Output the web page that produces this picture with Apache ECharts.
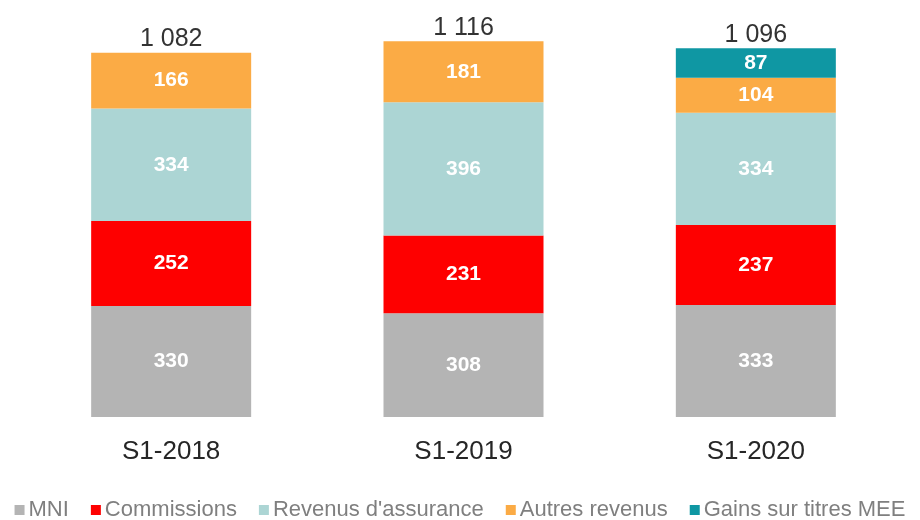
<!DOCTYPE html>
<html>
<head>
    <meta charset="UTF-8">
    <title></title>
    <script type="text/javascript" src="https://cdn.jsdelivr.net/npm/echarts@6/dist/echarts.min.js"></script>
    <style type="text/css">
        body { margin: 0; background: #fff; }
        #chart { width: 920px; height: 520px; }
    </style>
</head>
<body>
<div id="chart"></div>
<script type="text/javascript">
    var categories = ['S1-2018', 'S1-2019', 'S1-2020'];
    var mni = [330, 308, 333];
    var commissions = [252, 231, 237];
    var assurance = [334, 396, 334];
    var autres = [166, 181, 104];
    var gains = [null, null, 87];
    var totals = ['1 082', '1 116', '1 096'];

    var font = 'Liberation Sans, Arial, sans-serif';
    var chart = echarts.init(document.getElementById('chart'));

    function part(name, data, color) {
        return {
            name: name,
            type: 'bar',
            stack: 'pnb',
            data: data,
            barWidth: 160,
            itemStyle: { color: color },
            label: {
                show: true,
                color: '#fff',
                fontFamily: font,
                fontWeight: 'bold',
                fontSize: 21
            }
        };
    }

    chart.setOption({
        animation: false,
        grid: { left: 25, right: 18, top: 13, bottom: 103 },
        legend: {
            data: ['MNI', 'Commissions', "Revenus d'assurance", 'Autres revenus', 'Gains sur titres MEE'],
            top: 494,
            left: 'center',
            itemWidth: 10,
            itemHeight: 10,
            itemGap: 22,
            icon: 'rect',
            textStyle: { fontFamily: font, fontSize: 22, color: '#7f7f7f', padding: [0, 0, 0, -1] }
        },
        xAxis: {
            type: 'category',
            data: categories,
            axisLine: { show: false },
            axisTick: { show: false },
            axisLabel: { fontFamily: font, fontSize: 26, color: '#262626', margin: 22 }
        },
        yAxis: {
            type: 'value',
            min: 0,
            max: 1200,
            show: false,
            splitLine: { show: false }
        },
        series: [
            part('MNI', mni, '#b4b4b4'),
            part('Commissions', commissions, '#fe0000'),
            part("Revenus d'assurance", assurance, '#acd5d4'),
            part('Autres revenus', autres, '#fbab45'),
            part('Gains sur titres MEE', gains, '#0f97a3'),
            {
                name: 'Total',
                type: 'bar',
                stack: 'pnb',
                data: [0, 0, 0],
                barWidth: 160,
                itemStyle: { color: 'transparent' },
                label: {
                    show: true,
                    position: 'top',
                    distance: 1,
                    color: '#333',
                    fontFamily: font,
                    fontSize: 25,
                    formatter: function (p) { return totals[p.dataIndex]; }
                }
            }
        ]
    });
</script>
</body>
</html>
